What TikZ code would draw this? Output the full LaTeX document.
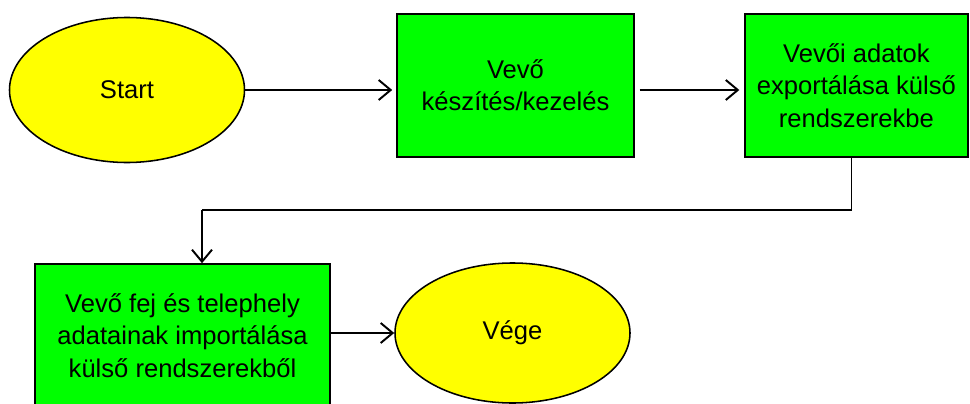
\documentclass[tikz,border=0pt]{standalone}
\usepackage{fontspec}
\setmainfont{Liberation Sans}
\usetikzlibrary{shapes.geometric,arrows.meta}

\definecolor{termyellow}{RGB}{255,255,0}
\definecolor{stepgreen}{RGB}{0,255,0}

\begin{document}
\begin{tikzpicture}[
        font=\fontsize{18.2}{23}\selectfont,
        terminal/.style={ellipse, draw, line width=1.1pt, fill=termyellow},
        stepbox/.style={rectangle, draw, line width=1.1pt, fill=stepgreen, align=center},
        flow/.style={line width=1.1pt, -{Straight Barb[length=3mm,width=5mm,line width=1.4pt]}}
    ]
        \useasboundingbox (0,0) rectangle (24.25,-10.075);
        % upper row
        \node [terminal, minimum width=5.875cm, minimum height=3.625cm] (start) at (3.175,-2.25) {Start};
        \node [stepbox, minimum width=5.925cm, minimum height=3.575cm] (kezeles) at (12.8875,-2.1375) {Vevő\\készítés/kezelés};
        \node [stepbox, minimum width=5.575cm, minimum height=3.575cm] (export) at (21.41,-2.1375) {Vevői adatok\\exportálása külső\\rendszerekbe};
        % lower row
        \node [stepbox, minimum width=7.375cm, minimum height=3.575cm] (import) at (4.5625,-8.3875) {Vevő fej és telephely\\adatainak importálása\\külső rendszerekből};
        \node [terminal, minimum width=5.875cm, minimum height=3.5cm] (vege) at (12.8125,-8.325) {Vége};
        \coordinate (bend) at (5.05,-5.25);

        \draw [flow, shorten >=1mm] (start.east) -- (start.east -| kezeles.west);
        \draw [flow, shorten <=1.2mm, shorten >=1.2mm] (start.east -| kezeles.east) -- (start.east -| export.west);
        \draw [line width=1.1pt] ([xshift=-1.25mm]export.south) |- (bend);
        \draw [flow] (bend) -- (bend |- import.north);
        \draw [flow] (vege.west -| import.east) -- (vege.west);
\end{tikzpicture}
\end{document}
